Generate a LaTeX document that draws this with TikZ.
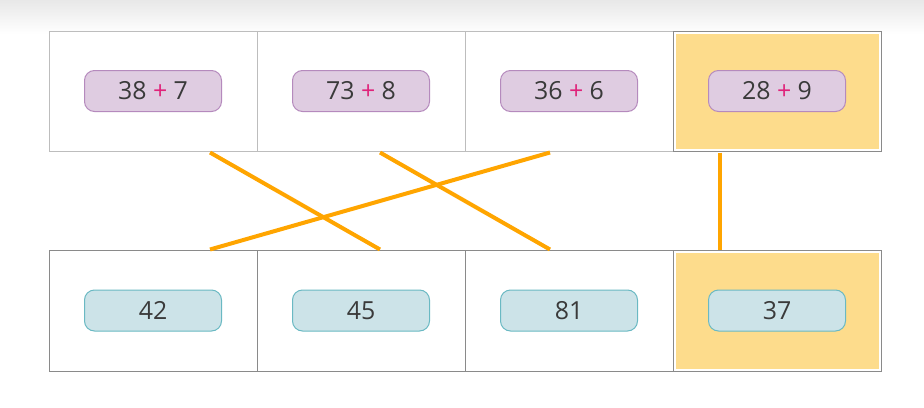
\documentclass[tikz,border=0pt]{standalone}
\usepackage{fontspec}
\setmainfont{Open Sans}
\usepackage{tikz}
\usetikzlibrary{shadows}

\definecolor{cellline}{HTML}{BDBDBD}
\definecolor{cellline2}{HTML}{8A8A8A}
\definecolor{hlyellow}{HTML}{FDDC8C}
\definecolor{purfill}{HTML}{DFCCE1}
\definecolor{purline}{HTML}{B58ABD}
\definecolor{tealfill}{HTML}{CCE3E8}
\definecolor{tealline}{HTML}{6AB9C3}
\definecolor{plusred}{HTML}{E0237A}
\definecolor{numtext}{HTML}{3A3A3A}
\definecolor{matchline}{HTML}{FFA500}

\begin{document}
\begin{tikzpicture}[
  cell/.style={draw=cellline,line width=1bp,fill=white,minimum width=208bp,minimum height=120bp,inner sep=0pt},
  cellb/.style={cell,draw=cellline2,minimum height=121bp,drop shadow={shadow xshift=0bp,shadow yshift=-1.2bp,opacity=0.25}},
  pill/.style={rounded corners=10bp,minimum width=137bp,minimum height=41bp,inner sep=0pt,line width=1bp,text=numtext,font=\fontsize{25}{25}\selectfont},
  toppill/.style={pill,draw=purline,fill=purfill},
  botpill/.style={pill,draw=tealline,fill=tealfill},
  match/.style={line width=4bp,matchline}]

\useasboundingbox (0bp,0bp) rectangle (924bp,-408bp);
\shade[top color=black!9,bottom color=white] (0bp,0bp) rectangle (924bp,-34bp);

% top row
\node (t1) at (153bp,-91bp)[cell] {};
\node (t2) at (361bp,-91bp)[cell] {};
\node (t3) at (569bp,-91bp)[cell] {};
\node (t4) at (777bp,-91bp)[cell,draw=cellline2,drop shadow={shadow xshift=0bp,shadow yshift=-1.2bp,opacity=0.25}] {};
\fill[hlyellow] ([shift={(3bp,-3bp)}]t4.north west) rectangle ([shift={(-3bp,3bp)}]t4.south east);

% bottom row
\node (b1) at (153bp,-310.5bp)[cellb] {};
\node (b2) at (361bp,-310.5bp)[cellb] {};
\node (b3) at (569bp,-310.5bp)[cellb] {};
\node (b4) at (777bp,-310.5bp)[cellb] {};
\fill[hlyellow] ([shift={(3bp,-3bp)}]b4.north west) rectangle ([shift={(-3bp,3bp)}]b4.south east);

\node (p1) at (t1)[toppill] {38 {\color{plusred}+} 7};
\node (p2) at (t2)[toppill] {73 {\color{plusred}+} 8};
\node (p3) at (t3)[toppill] {36 {\color{plusred}+} 6};
\node (p4) at (t4)[toppill] {28 {\color{plusred}+} 9};

\node (r1) at (b1)[botpill] {42};
\node (r2) at (b2)[botpill] {45};
\node (r3) at (b3)[botpill] {81};
\node (r4) at (b4)[botpill] {37};

% matching lines
\coordinate (t1e) at ([xshift=57bp,yshift=-1bp]t1.south);
\coordinate (t2e) at ([xshift=19bp,yshift=-1bp]t2.south);
\coordinate (t3e) at ([xshift=-19bp,yshift=-1bp]t3.south);
\coordinate (t4e) at ([xshift=-57bp,yshift=-1bp]t4.south);
\coordinate (b1e) at ([xshift=57bp]b1.north);
\coordinate (b2e) at ([xshift=19bp]b2.north);
\coordinate (b3e) at ([xshift=-19bp]b3.north);
\coordinate (b4e) at ([xshift=-57bp]b4.north);
\draw[match] (t1e) -- (b2e);
\draw[match] (t2e) -- (b3e);
\draw[match] (t3e) -- (b1e);
\draw[match] (t4e) -- (b4e);
\end{tikzpicture}
\end{document}
